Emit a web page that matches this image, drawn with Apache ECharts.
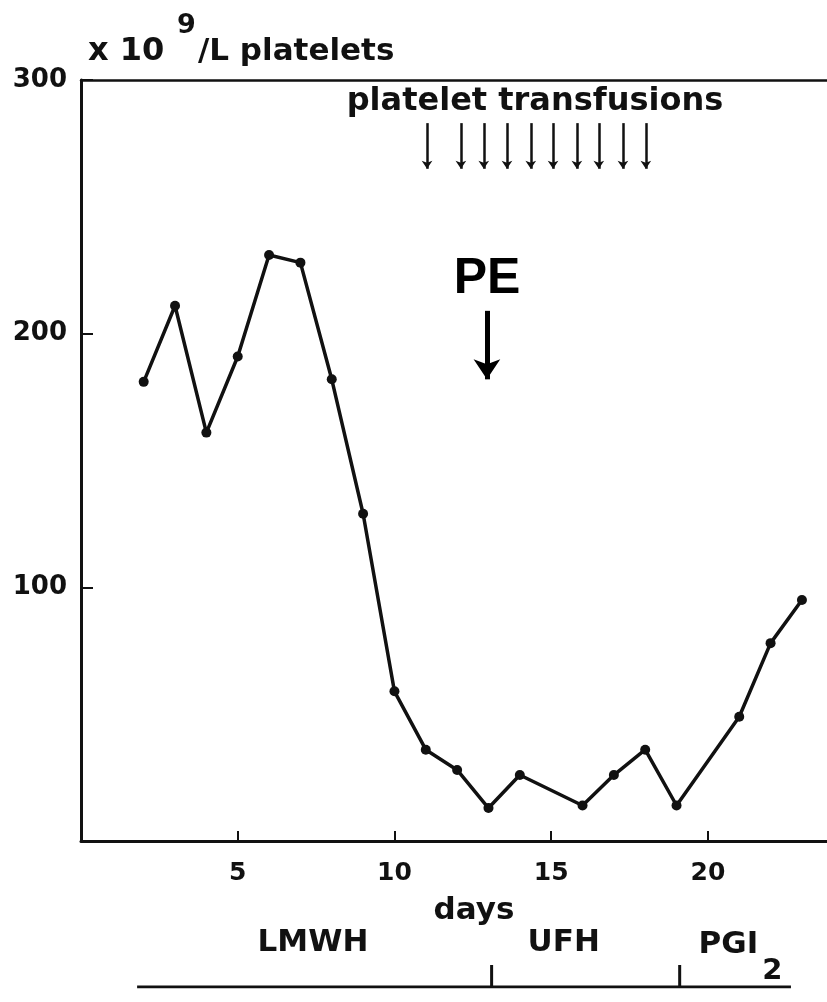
<!DOCTYPE html>
<html>
<head>
<meta charset="utf-8">
<script src="https://cdn.jsdelivr.net/npm/echarts@6/dist/echarts.min.js"></script>
<style>html,body{margin:0;padding:0;background:#fff}#c{width:827px;height:1002px}</style>
</head>
<body>
<div id="c"></div>
<script>
// Data
const days = [2, 3, 4, 5, 6, 7, 8, 9, 10, 11, 12, 13, 14, 16, 17, 18, 19, 21, 22, 23];
const platelets = [181, 211, 161, 191, 231, 228, 182, 129, 59, 36, 28, 13, 26, 14, 26, 36, 14, 49, 78, 95];
const transfusionDays = [11.04, 12.12, 12.85, 13.59, 14.35, 15.06, 15.82, 16.52, 17.29, 18.02];
const transfusionFrom = 283;
const transfusionTo = 265;
const peDay = 12.95;
const peFrom = 209;
const peTo = 182;
const therapyLine = [1.79, 22.65];
const therapyMarks = [13.1, 19.1];
const therapyLabels = [
  { name: 'LMWH', day: 7.4, align: 'center' },
  { name: 'UFH', day: 15.4, align: 'center' },
  { name: 'PGI2', day: 19.7, align: 'left' }
];
const yMin = 0, yMax = 300, yInterval = 100;
const xMin = 0, xMax = 23.8, xInterval = 5;

const F = 'DejaVu Sans';
const black = '#111';

const chart = echarts.init(document.getElementById('c'), null, { renderer: 'canvas' });

const series = [
  {
    type: 'line',
    xAxisIndex: 0, yAxisIndex: 0,
    data: days.map((d, i) => [d, platelets[i]]),
    symbol: 'circle', symbolSize: 10,
    itemStyle: { color: black },
    lineStyle: { color: black, width: 3.5 },
    silent: true,
    animation: false,
    markLine: {
      silent: true,
      animation: false,
      symbol: ['none', 'arrow'],
      symbolSize: 8,
      label: { show: false },
      lineStyle: { color: black, width: 2.5, type: 'solid' },
      data: transfusionDays.map(d => [{ coord: [d, transfusionFrom] }, { coord: [d, transfusionTo] }])
        .concat([[
          { coord: [peDay, peFrom], lineStyle: { width: 5, color: '#000' }, symbolSize: 0 },
          { coord: [peDay, peTo], lineStyle: { width: 5, color: '#000' }, symbolSize: 20 }
        ]])
    }
  },
  {
    type: 'line',
    xAxisIndex: 2, yAxisIndex: 1,
    data: therapyLine.map(d => [d, 0]),
    symbol: 'none',
    lineStyle: { color: black, width: 3 },
    silent: true, animation: false
  }
].concat(therapyMarks.map(d => ({
  type: 'line',
  xAxisIndex: 2, yAxisIndex: 1,
  data: [[d, 0], [d, 0.82]],
  symbol: 'none',
  lineStyle: { color: black, width: 3 },
  silent: true, animation: false
}))).concat([{
  type: 'scatter',
  xAxisIndex: 2, yAxisIndex: 1,
  clip: false,
  symbolSize: 0,
  itemStyle: { opacity: 1, color: black },
  silent: true, animation: false,
  data: therapyLabels.map(t => ({
    value: [t.day, 1.64],
    name: t.name,
    label: t.name === 'PGI2' ? {
      show: true,
      position: 'inside',
      align: 'left',
      verticalAlign: 'middle',
      offset: [0, 4],
      formatter: '{a|PGI}{b|2}',
      rich: {
        a: { fontFamily: F, fontWeight: 'bold', fontSize: 31, color: black, lineHeight: 36, verticalAlign: 'top' },
        b: { fontFamily: F, fontWeight: 'bold', fontSize: 29, color: black, lineHeight: 36, verticalAlign: 'top', padding: [28, 0, 0, 4] }
      }
    } : {
      show: true,
      position: 'inside',
      align: t.align,
      verticalAlign: 'middle',
      formatter: t.name,
      color: black,
      fontFamily: F, fontWeight: 'bold', fontSize: 31
    }
  }))
}]);

chart.setOption({
  animation: false,
  backgroundColor: '#fff',
  grid: [
    { left: 81, width: 746, top: 80, bottom: 161 },
    { left: 81, width: 746, top: 920, bottom: 15 }
  ],
  xAxis: [
    {
      type: 'value', gridIndex: 0, min: xMin, max: xMax, interval: xInterval,
      axisLine: { show: true, onZero: false, lineStyle: { color: black, width: 3 } },
      axisTick: { show: true, inside: true, length: 10, lineStyle: { color: black, width: 2 } },
      axisLabel: {
        show: true, margin: 20, color: black, fontFamily: F, fontWeight: 'bold', fontSize: 25,
        formatter: v => (v === 0 ? '' : String(v)),
        showMaxLabel: false
      },
      splitLine: { show: false }
    },
    {
      type: 'value', gridIndex: 0, position: 'top', min: xMin, max: xMax,
      axisLine: { show: true, onZero: false, lineStyle: { color: black, width: 2.5 } },
      axisTick: { show: false }, axisLabel: { show: false }, splitLine: { show: false }
    },
    {
      type: 'value', gridIndex: 1, min: xMin, max: xMax,
      show: false, splitLine: { show: false }
    }
  ],
  yAxis: [
    {
      type: 'value', gridIndex: 0, min: yMin, max: yMax, interval: yInterval,
      axisLine: { show: true, onZero: false, lineStyle: { color: black, width: 3 } },
      axisTick: { show: true, inside: true, length: 12, lineStyle: { color: black, width: 2 } },
      axisLabel: {
        show: true, margin: 14, color: black, fontFamily: F, fontWeight: 'bold', fontSize: 26,
        formatter: v => (v === 0 ? '' : String(v))
      },
      splitLine: { show: false }
    },
    {
      type: 'value', gridIndex: 1, min: 0, max: 2.5, show: false, splitLine: { show: false }
    }
  ],
  graphic: [
    { type: 'text', left: 88, top: 36, style: { text: 'x 10', fill: black, font: 'bold 32px "DejaVu Sans"' } },
    { type: 'text', left: 177, top: 12, style: { text: '9', fill: black, font: 'bold 27px "DejaVu Sans"' } },
    { type: 'text', left: 198, top: 36, style: { text: '/L platelets', fill: black, font: 'bold 31px "DejaVu Sans"' } },
    { type: 'text', x: 535, y: 102, style: { text: 'platelet transfusions', fill: black, font: 'bold 32px "DejaVu Sans"', align: 'center', verticalAlign: 'middle' } },
    { type: 'text', x: 487, y: 279, style: { text: 'PE', fill: '#000', font: 'bold 50px "Liberation Sans"', align: 'center', verticalAlign: 'middle' } },
    { type: 'text', x: 474, y: 911, style: { text: 'days', fill: black, font: 'bold 31px "DejaVu Sans"', align: 'center', verticalAlign: 'middle' } }
  ],
  series: series
});
</script>
</body>
</html>
